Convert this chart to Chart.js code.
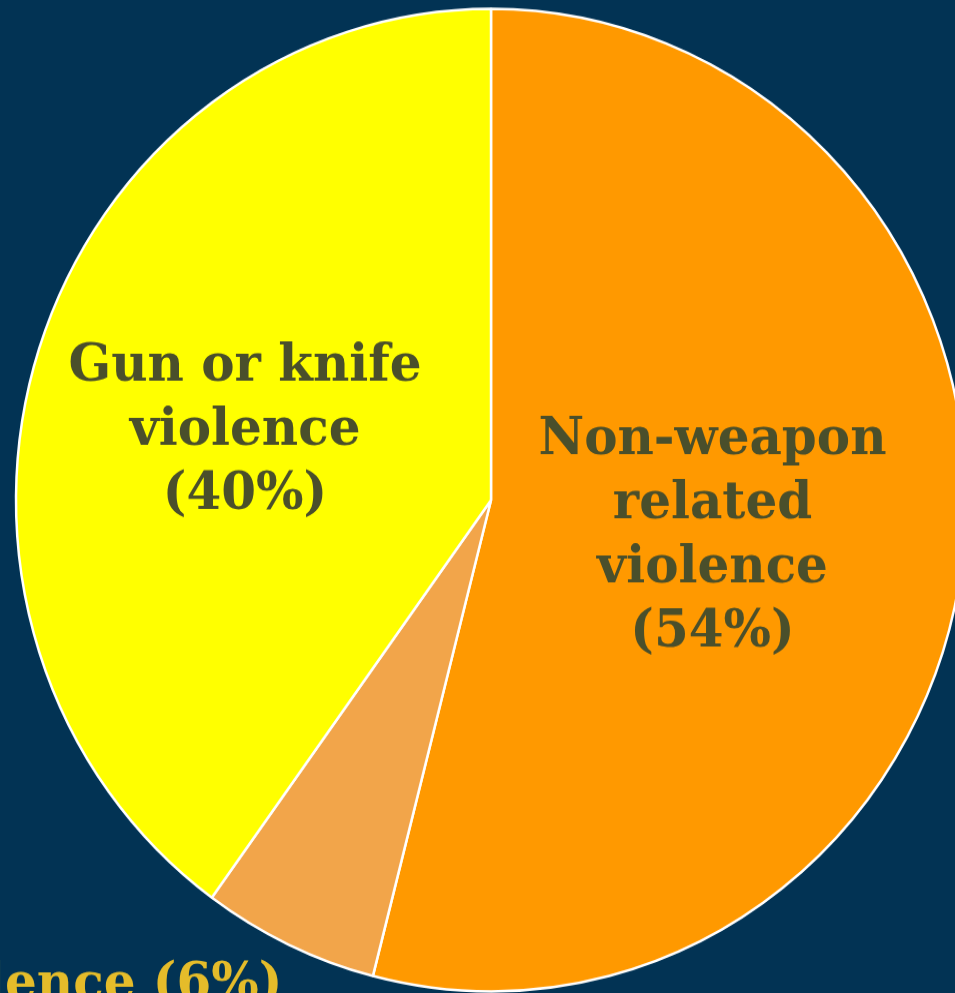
<!DOCTYPE html>
<html>
<head>
<meta charset="utf-8">
<script src="https://cdn.jsdelivr.net/npm/chart.js@4.4.1/dist/chart.umd.min.js"></script>
<style>
  html, body { margin: 0; padding: 0; background: #023354; overflow: hidden; width: 955px; height: 993px; }
  #wrap { position: absolute; left: 0; top: 0; width: 980px; height: 993px; }
</style>
</head>
<body>
<div id="wrap"><canvas id="c" width="980" height="960" style="width:980px;height:993px"></canvas></div>
<script>
// ---- data ----
const categories = ['Non-weapon related violence', 'Other violence', 'Gun or knife violence'];
const shares = [54, 6, 40];
const labelLines = [
  ['Non-weapon', 'related', 'violence', '(54%)'],
  ['Other violence (6%)'],
  ['Gun or knife', 'violence', '(40%)']
];
const sliceColors = ['#FF9900', '#F2A54A', '#FFFF00'];

// label placement style (relative to each arc)
const labelStyle = [
  { f: 0.47, dx: 0, dy: 8, align: 'center', color: '#4A4F2B', lh: 62 },
  { f: 1.12, dx: 18, dy: 1, align: 'right', color: '#E5BC2A', lh: 62, baseline: true },
  { f: 0.54, dx: -2, dy: 13, align: 'center', color: '#4A4F2B', lh: 62 }
];

const sliceLabels = {
  id: 'sliceLabels',
  afterDatasetsDraw(chart) {
    const ctx = chart.ctx;
    const meta = chart.getDatasetMeta(0);
    ctx.save();
    ctx.font = 'bold 50px "DejaVu Serif", serif';
    meta.data.forEach((arc, i) => {
      const st = labelStyle[i];
      const p = arc.getProps(['x', 'y', 'startAngle', 'endAngle', 'outerRadius'], true);
      const mid = (p.startAngle + p.endAngle) / 2;
      const ax = p.x + Math.cos(mid) * p.outerRadius * st.f + st.dx;
      const ay = p.y + Math.sin(mid) * p.outerRadius * st.f + st.dy;
      const lines = labelLines[i];
      ctx.fillStyle = st.color;
      ctx.textAlign = st.align;
      if (st.baseline) {
        ctx.textBaseline = 'alphabetic';
        lines.forEach((t, k) => ctx.fillText(t, ax, ay + k * st.lh));
      } else {
        ctx.textBaseline = 'middle';
        const top = ay - (lines.length - 1) * st.lh / 2;
        lines.forEach((t, k) => ctx.fillText(t, ax, top + k * st.lh));
      }
    });
    ctx.restore();
  }
};

new Chart(document.getElementById('c'), {
  type: 'pie',
  data: {
    labels: categories,
    datasets: [{
      data: shares,
      backgroundColor: sliceColors,
      borderColor: '#FFFFFF',
      borderWidth: 2.5
    }]
  },
  options: {
    responsive: false,
    devicePixelRatio: 1,
    animation: false,
    radius: 475,
    layout: { padding: { left: 16, right: 14, top: 8, bottom: 1 } },
    plugins: {
      legend: { display: false },
      tooltip: { enabled: false }
    }
  },
  plugins: [sliceLabels]
});
</script>
</body>
</html>
